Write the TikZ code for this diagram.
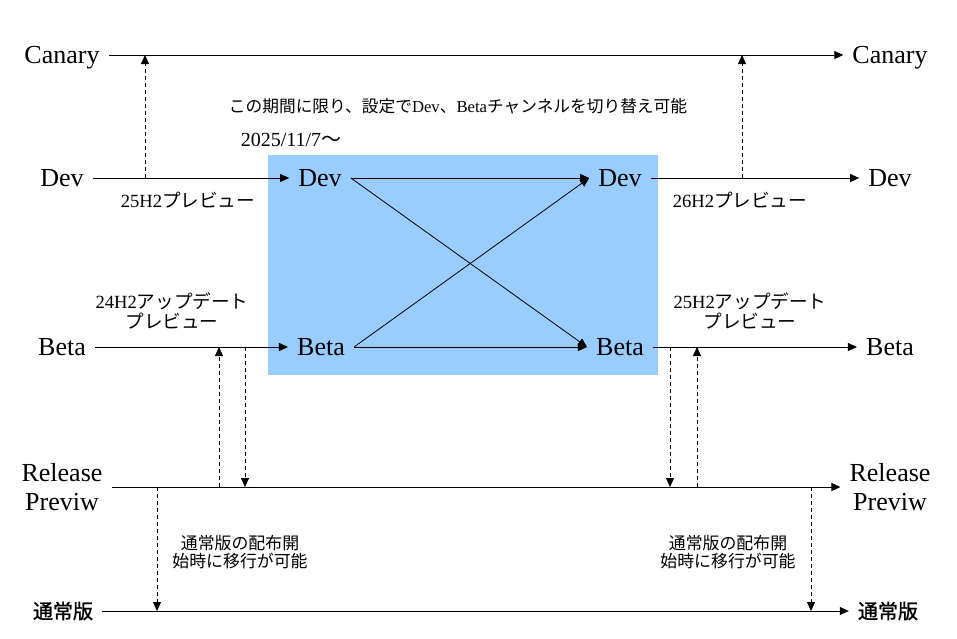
\documentclass[tikz,border=0pt]{standalone}
\usepackage{fontspec}
\setmainfont{Liberation Serif}
\newfontfamily\jp{Noto Sans CJK JP}
\newfontfamily\jpm{Noto Sans CJK JP}[FakeBold=1.2]
\usetikzlibrary{arrows.meta}
\definecolor{period}{RGB}{153,204,255}

\begin{document}
\begin{tikzpicture}[x=1pt,y=-1pt,
  rp/.style={font=\fontsize{26}{29}\selectfont,align=center,inner xsep=9pt,inner ysep=2pt},
  ch/.style={rp,text height=17pt,text depth=0pt},
  gen/.style={ch,font=\jpm\fontsize{20}{24}\selectfont,text height=16pt,text depth=0.8pt},
  note/.style={font=\fontsize{18.6}{20}\selectfont,align=center,inner sep=0pt},
  small/.style={font=\jp\fontsize{16.9}{18}\selectfont,align=center,inner sep=0pt},
  flow/.style={-{Triangle[length=9pt,width=8pt]},line width=0.8pt},
  jump/.style={flow,dash pattern=on 4pt off 3pt}]
\useasboundingbox (0,0) rectangle (957,638);
\fill[period] (268,155) rectangle (658,375);
% channels, left and right
\node[ch] (canL) at (62,55) {Canary};
\node[ch] (canR) at (890,55) {Canary};
\node[ch] (devL) at (62,178) {Dev};
\node[ch] (devR) at (890,178) {Dev};
\node[ch] (betaL) at (62,347) {Beta};
\node[ch] (betaR) at (890,347) {Beta};
\node[rp] (rpL) at (62,487) {Release\\Previw};
\node[rp] (rpR) at (890,487) {Release\\Previw};
\node[gen] (genL) at (63,611) {通常版};
\node[gen] (genR) at (888,611) {通常版};
% switch period
\node[ch] (devA) at (320,178) {Dev};
\node[ch] (devB) at (620,178) {Dev};
\node[ch] (betaA) at (321,347) {Beta};
\node[ch] (betaB) at (620,347) {Beta};
% texts
\node[note,font=\fontsize{16.7}{19}\selectfont] (title) at (458,106) {{\jp この期間に限り、設定で}Dev{\jp 、}Beta{\jp チャンネルを切り替え可能}};
\node[note,font=\fontsize{20}{22}\selectfont] (date) at (291,140) {2025/11/7{\jp 〜}};
\node[note] (pv25) at (188,200) {25H2{\jp プレビュー}};
\node[note] (pv26) at (740,200) {26H2{\jp プレビュー}};
\node[note] (up24) at (172,311) {24H2{\jp アップデート}\\{\jp プレビュー}};
\node[note] (up25) at (750,311) {25H2{\jp アップデート}\\{\jp プレビュー}};
\node[small] (moveL) at (240,552) {通常版の配布開\\始時に移行が可能};
\node[small] (moveR) at (728,552) {通常版の配布開\\始時に移行が可能};
% lines
\draw[flow] (canL) -- (canR);
\draw[flow] (devL) -- (devA);
\draw[flow] (devA) -- (devB);
\draw[flow] (devB) -- (devR);
\draw[flow] (betaL) -- (betaA);
\draw[flow] (betaA) -- (betaB);
\draw[flow] (betaB) -- (betaR);
\draw[flow] (rpL) -- (rpR);
\draw[flow] (genL) -- (genR);
\draw[flow] (devA.east) -- (betaB.west);
\draw[flow] (betaA.east) -- (devB.west);
% moves between channels
\foreach \x/\a/\b in {145/devL/canL, 742/devR/canR, 219/rpL/betaL, 245/betaL/rpL,
  670/betaR/rpR, 697/rpR/betaR, 157/rpL/genL, 811/rpR/genR}
  \draw[jump] (\x,0 |- \a) -- (\x,0 |- \b);
\end{tikzpicture}
\end{document}
